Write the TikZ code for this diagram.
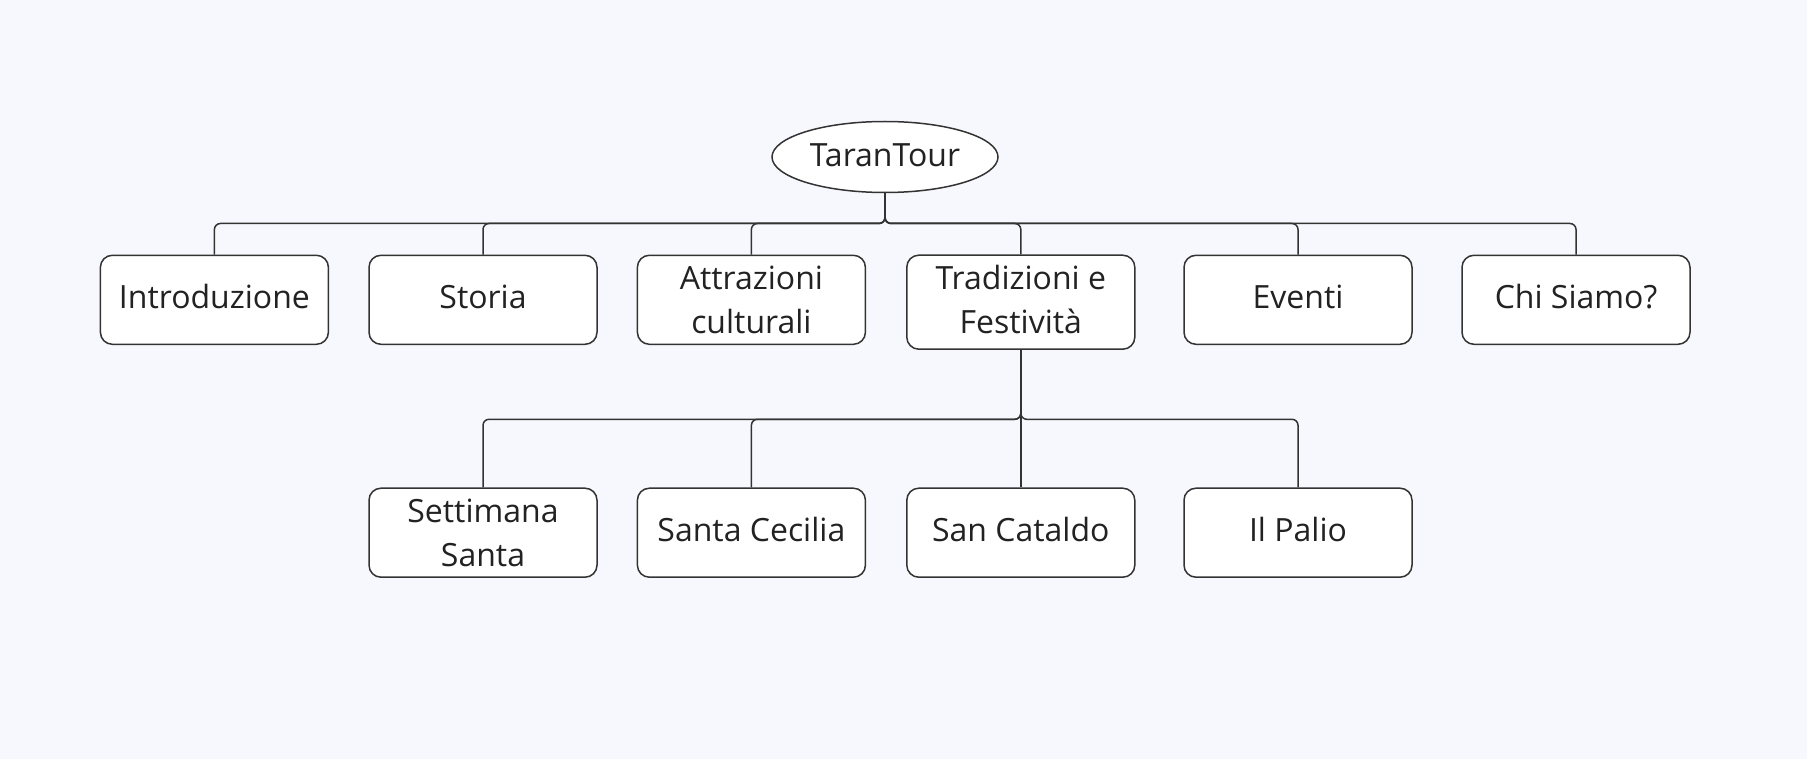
\documentclass[tikz,border=0pt]{standalone}
\usepackage{fontspec}
\setmainfont{Open Sans}
\usetikzlibrary{shapes.geometric}
\definecolor{bg}{HTML}{F7F7FE}
\definecolor{ln}{HTML}{333333}
\definecolor{tx}{HTML}{222222}
\begin{document}
\begin{tikzpicture}[x=1pt,y=-1pt,
  lab/.style={font=\fontsize{32}{43.5}\selectfont, text=tx, align=center, inner sep=0pt},
  box/.style={lab, draw=ln, line width=1.5pt, fill=white, rounded corners=12pt, minimum width=228pt, minimum height=89pt},
  onebox/.style={box, text depth=7pt},
  tallbox/.style={box, minimum height=94pt, text depth=6pt},
  rootnode/.style={lab, ellipse, draw=ln, line width=1.5pt, fill=white, minimum width=226pt, minimum height=71pt},
  conn/.style={draw=ln, line width=1.5pt, rounded corners=6pt}]
\fill[bg] (0,0) rectangle (1807,759);
\useasboundingbox (0,0) rectangle (1807,759);
\node[rootnode, text depth=4pt] (root) at (885,157) {TaranTour};
\node[onebox] (intro) at (214.4,299.8) {Introduzione};
\node[onebox] (storia) at (483,299.8) {Storia};
\node[box] (attr) at (751.4,299.8) {Attrazioni\\culturali};
\node[tallbox] (trad) at (1020.8,302.2) {Tradizioni e\\Festività};
\node[onebox] (eventi) at (1298,299.8) {Eventi};
\node[onebox] (chi) at (1576,299.8) {Chi Siamo?};
\node[box] (sett) at (483,532.7) {Settimana\\Santa};
\node[onebox] (cec) at (751.4,532.7) {Santa Cecilia};
\node[onebox] (cat) at (1020.8,532.7) {San Cataldo};
\node[onebox] (palio) at (1298,532.7) {Il Palio};
\coordinate (busA) at (0,223.5);
\coordinate (busB) at (0,419.3);
\foreach \c in {intro,storia,attr,trad,eventi,chi}
  \draw[conn] (root.south) |- (busA -| \c.north) -- (\c.north);
\foreach \c in {sett,cec,cat,palio}
  \draw[conn] (trad.south) |- (busB -| \c.north) -- (\c.north);
\end{tikzpicture}
\end{document}
